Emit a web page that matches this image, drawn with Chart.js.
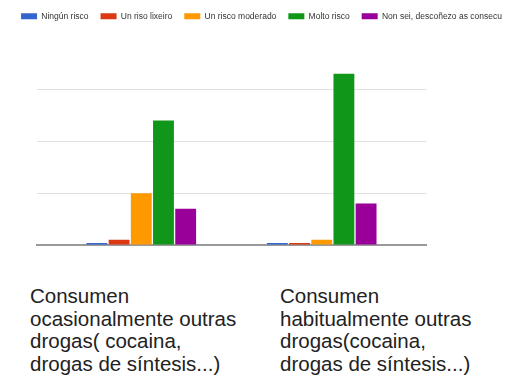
<!DOCTYPE html>
<html>
<head>
<meta charset="utf-8">
<title>Consumo doutras drogas</title>
<script src="https://cdn.jsdelivr.net/npm/chart.js@4/dist/chart.umd.min.js"></script>
<style>
  body { margin: 0; background: #fff; font-family: "Liberation Sans", Arial, sans-serif; }
  #wrap { position: relative; width: 523px; height: 376px; }
  #chartBox { position: absolute; left: 0; top: 0; width: 523px; height: 253px; }
  .cat {
    position: absolute; top: 285px;
    font-size: 20.5px; line-height: 22.7px; color: #222; white-space: nowrap;
  }
</style>
</head>
<body>
<div id="wrap">
  <div id="chartBox"><canvas id="riskChart"></canvas></div>
</div>

<script>
// answers grouped by question, one series per answer
const categories = [
  ['Consumen', 'ocasionalmente outras', 'drogas( cocaina,', 'drogas de síntesis...)'],
  ['Consumen', 'habitualmente outras', 'drogas(cocaina,', 'drogas de síntesis...)']
];
const seriesNames = ['Ningún risco', 'Un riso lixeiro', 'Un risco moderado', 'Molto risco', 'Non sei, descoñezo as consecu'];
const ninguRisco = [0, 0];
const risoLixeiro = [1, 0];
const riscoModerado = [10, 1];
const moltoRisco = [24, 33];
const nonSei = [7, 8];
const gridTicks = [0, 10, 20, 30];

const colors = ['#3366cc', '#dc3912', '#ff9900', '#109618', '#990099'];
const allSeries = [ninguRisco, risoLixeiro, riscoModerado, moltoRisco, nonSei];

// category labels go under the plot as plain text
const catLeft = [30, 280];
const wrap = document.querySelector('#wrap');
categories.forEach(function(lines, i){
  const div = document.createElement('div');
  div.className = 'cat';
  div.style.left = catLeft[i] + 'px';
  div.innerHTML = lines.join('<br>');
  wrap.appendChild(div);
});

// leave some room between the legend and the plot
const legendGap = {
  id: 'legendGap',
  beforeInit(chart){
    const fit = chart.legend.fit;
    chart.legend.fit = function(){
      fit.bind(chart.legend)();
      this.height += 33;
    };
  }
};

const datasets = allSeries.map(function(vals, i){
  return {
    label: seriesNames[i],
    data: vals.map(function(v, j){ return {x: j, y: v}; }),
    backgroundColor: colors[i],
    borderWidth: 0,
    minBarLength: 2,
    barPercentage: 0.94,
    categoryPercentage: 0.615
  };
});

var ctx = document.querySelector('#riskChart').getContext('2d');

new Chart(ctx, {
  type: 'bar',
  data: { datasets: datasets },
  plugins: [legendGap],
  options: {
    responsive: true,
    maintainAspectRatio: false,
    animation: false,
    layout: { padding: 0 },
    plugins: {
      legend: {
        labels: {
          boxWidth: 16,
          boxHeight: 6,
          padding: 12,
          color: '#333',
          font: { family: '"Liberation Sans", Arial, sans-serif', size: 8.5 }
        }
      },
      tooltip: { enabled: false }
    },
    scales: {
      x: {
        type: 'linear',
        offset: false,
        min: -0.578,
        max: 1.578,
        afterBuildTicks: function(scale){
          scale.ticks = categories.map(function(c, i){ return {value: i}; });
        },
        grid: { display: false },
        ticks: { display: false },
        border: { display: true, color: '#999', width: 2 }
      },
      y: {
        min: 0,
        max: 35,
        afterBuildTicks: function(scale){
          scale.ticks = gridTicks.map(function(v){ return {value: v}; });
        },
        afterFit: function(scale){ scale.width = 37; },
        grid: { color: '#e0e0e0', drawTicks: false },
        ticks: { display: false },
        border: { display: false }
      },
      // empty axis on the right, only keeps the margin there
      yRight: {
        position: 'right',
        afterFit: function(scale){ scale.width = 97; },
        grid: { display: false },
        ticks: { display: false },
        border: { display: false }
      }
    }
  }
});
</script>
</body>
</html>
